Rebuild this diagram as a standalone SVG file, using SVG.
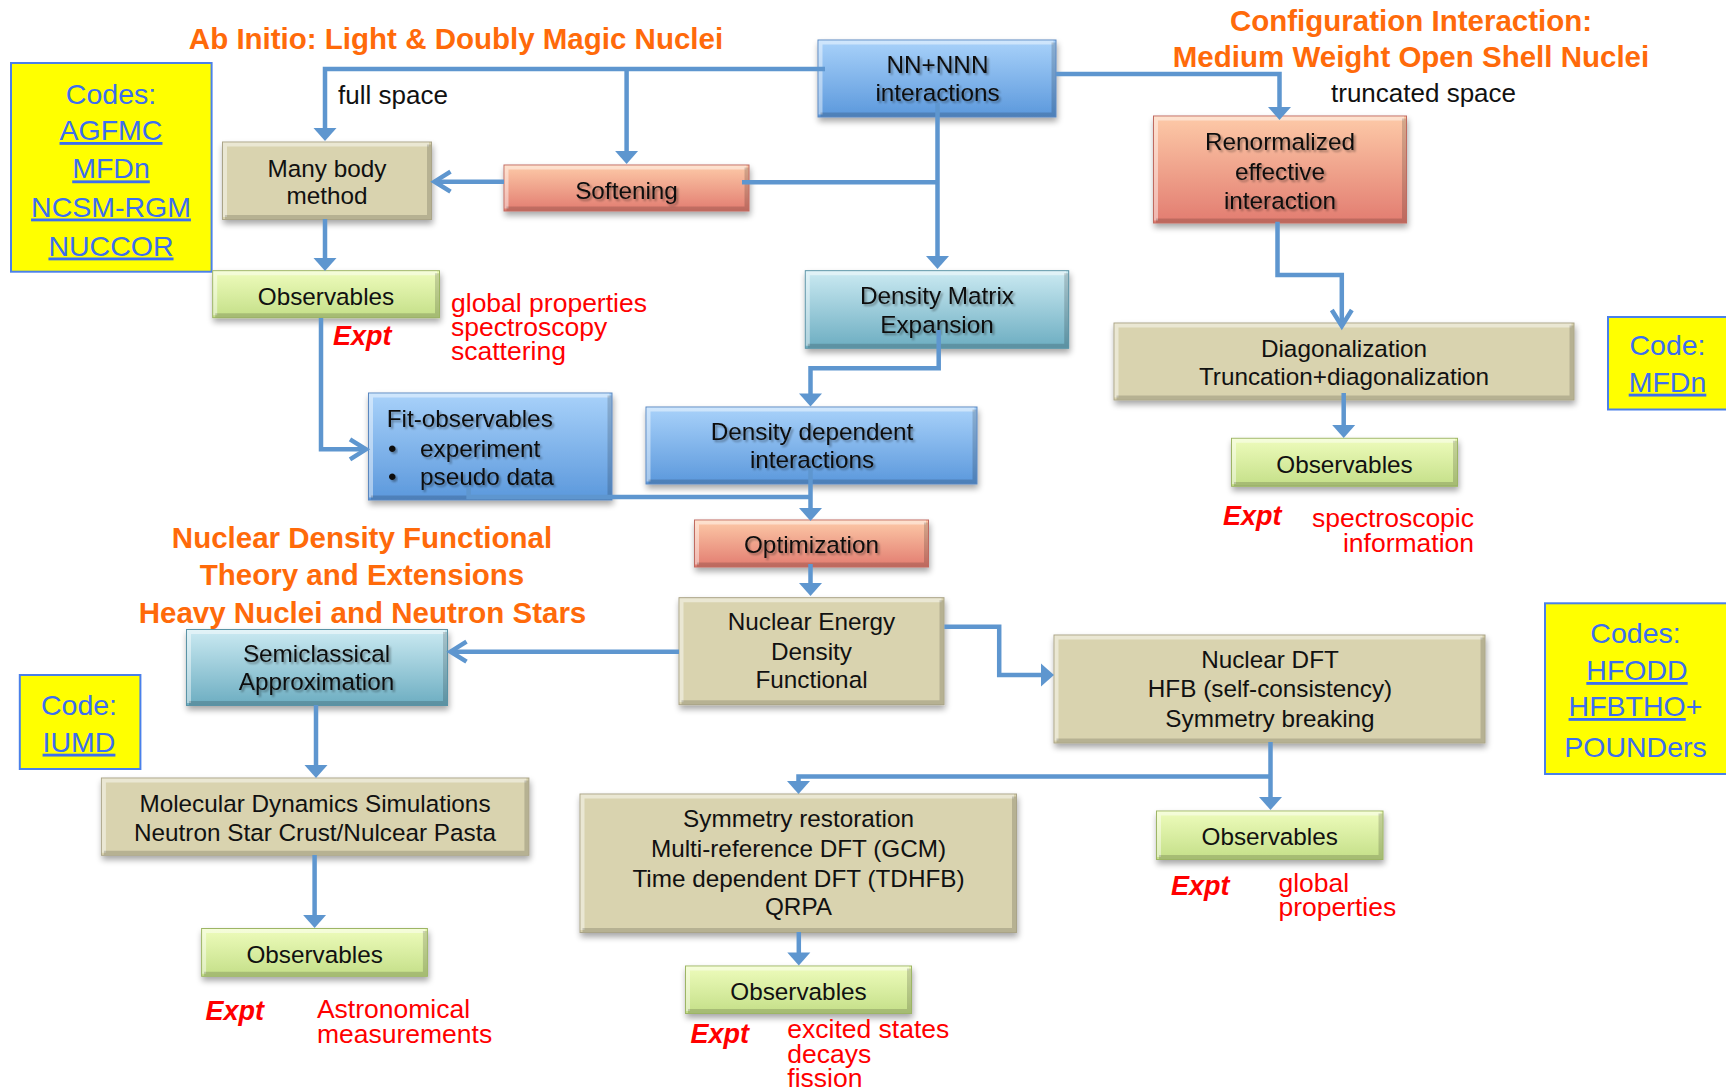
<svg xmlns="http://www.w3.org/2000/svg" width="1726" height="1091" viewBox="0 0 1726 1091">
<style>
  text { font-family: "Liberation Sans", Arial, sans-serif; }
  .bt { font-size: 24.3px; fill: #111; text-anchor: middle; }
  .btl { font-size: 24.3px; fill: #111; text-anchor: start; }
  .ttl { font-size: 29.5px; font-weight: bold; fill: #ff6a0a; text-anchor: middle; }
  .lbl { font-size: 26px; fill: #111; }
  .red { font-size: 26.5px; fill: #ff0000; }
  .rede { font-size: 26.5px; fill: #ff0000; text-anchor: end; }
  .expt { font-size: 27px; font-weight: bold; font-style: italic; fill: #ff0000; }
  .code { font-size: 28.5px; fill: #3c6ef0; text-anchor: middle; }
  .u { text-decoration: underline; }
  .codebox { fill: #ffff00; stroke: #4a80ea; stroke-width: 2; }
  .box { filter: url(#sh); stroke-width: 1; }
  .tan { fill: #d9d3af; stroke: #aaa487; }
  .blue { fill: url(#gBlue); stroke: #5a87c0; }
  .teal { fill: url(#gTeal); stroke: #5a93a6; }
  .salm { fill: url(#gSalm); stroke: #c06a60; }
  .green { fill: url(#gGreen); stroke: #9db565; }
  .hi { fill: none; stroke: #ffffff; stroke-opacity: 0.45; stroke-width: 4; }
  .lo { fill: none; stroke: #000000; stroke-opacity: 0.16; stroke-width: 4; }
  .ts { filter: url(#tsh); }
  .con { fill: none; stroke: #5e96cf; stroke-width: 4.5; }
</style>
<defs>
  <linearGradient id="gBlue" x1="0" y1="0" x2="0" y2="1">
    <stop offset="0" stop-color="#a9d2fa"/>
    <stop offset="1" stop-color="#5b98dc"/>
  </linearGradient>
  <linearGradient id="gTeal" x1="0" y1="0" x2="0" y2="1">
    <stop offset="0" stop-color="#cbeaf2"/>
    <stop offset="1" stop-color="#6cadc1"/>
  </linearGradient>
  <linearGradient id="gSalm" x1="0" y1="0" x2="0" y2="1">
    <stop offset="0" stop-color="#fdcaa8"/>
    <stop offset="1" stop-color="#e27c70"/>
  </linearGradient>
  <linearGradient id="gGreen" x1="0" y1="0" x2="0" y2="1">
    <stop offset="0" stop-color="#eefcbc"/>
    <stop offset="1" stop-color="#c4df88"/>
  </linearGradient>
  <filter id="sh" x="-10%" y="-20%" width="125%" height="160%">
    <feGaussianBlur in="SourceAlpha" stdDeviation="3"/>
    <feOffset dx="1" dy="4" result="b"/>
    <feComponentTransfer><feFuncA type="linear" slope="0.35"/></feComponentTransfer>
    <feMerge><feMergeNode/><feMergeNode in="SourceGraphic"/></feMerge>
  </filter>
  <filter id="tsh" x="-10%" y="-20%" width="120%" height="150%">
    <feGaussianBlur in="SourceAlpha" stdDeviation="1.2"/>
    <feOffset dx="1.5" dy="1.5"/>
    <feComponentTransfer><feFuncA type="linear" slope="0.35"/></feComponentTransfer>
    <feMerge><feMergeNode/><feMergeNode in="SourceGraphic"/></feMerge>
  </filter>
  <marker id="tri" markerUnits="userSpaceOnUse" markerWidth="14" markerHeight="24" viewBox="0 0 14 24" refX="3" refY="11.5" orient="auto" overflow="visible">
    <path d="M0,0 L13,11.5 L0,23 Z" fill="#5e96cf"/>
  </marker>
  <marker id="chev" markerUnits="userSpaceOnUse" markerWidth="20" markerHeight="24" viewBox="0 0 20 24" refX="16" refY="10" orient="auto" overflow="visible">
    <path d="M0,0 L16,10 L0,20" fill="none" stroke="#5e96cf" stroke-width="4.5"/>
  </marker>
</defs>

<rect x="0" y="0" width="1726" height="1091" fill="#ffffff"/>

<!-- Titles -->
<g id="titles">
  <text class="ttl" x="456" y="48.5">Ab Initio: Light &amp; Doubly Magic Nuclei</text>
  <text class="ttl" x="1411" y="30.5">Configuration Interaction:</text>
  <text class="ttl" x="1411" y="66.7">Medium Weight Open Shell Nuclei</text>
  <text class="ttl" x="362" y="548.3">Nuclear Density Functional</text>
  <text class="ttl" x="362" y="585">Theory and Extensions</text>
  <text class="ttl" x="362.5" y="623.3">Heavy Nuclei and Neutron Stars</text>
  <text class="lbl" x="338" y="104">full space</text>
  <text class="lbl" x="1331" y="101.7">truncated space</text>
</g>

<!-- Code boxes -->
<g id="codes-abinitio">
  <rect class="codebox" x="11" y="63" width="200.6" height="208.7"/>
  <text class="code" x="111" y="103.5">Codes:</text>
  <text class="code u" x="111" y="140">AGFMC</text>
  <text class="code u" x="111" y="178.4">MFDn</text>
  <text class="code u" x="111" y="216.5">NCSM-RGM</text>
  <text class="code u" x="111" y="255.5">NUCCOR</text>
</g>
<g id="codes-ci">
  <rect class="codebox" x="1608" y="317" width="140" height="92.5"/>
  <text class="code" x="1667.5" y="355">Code:</text>
  <text class="code u" x="1667.5" y="391.7">MFDn</text>
</g>
<g id="codes-dft">
  <rect class="codebox" x="1545" y="603.3" width="200" height="170.7"/>
  <text class="code" x="1635.5" y="643.3">Codes:</text>
  <text class="code u" x="1637" y="680">HFODD</text>
  <text class="code" x="1635.5" y="716"><tspan class="u">HFBTHO</tspan>+</text>
  <text class="code" x="1635.5" y="756.7">POUNDers</text>
</g>
<g id="codes-iumd">
  <rect class="codebox" x="19.8" y="675" width="120.6" height="94"/>
  <text class="code" x="79" y="715">Code:</text>
  <text class="code u" x="79" y="751.7">IUMD</text>
</g>

<!-- Nodes -->
<g id="n-nn">
  <rect class="box blue" x="818" y="40" width="238" height="77"/>
  <path class="hi" d="M820.5,114.5 V42.5 H1053.5"/>
  <path class="lo" d="M820.5,114.5 H1053.5 V42.5"/>
  <text class="bt ts" x="937.5" y="73.3">NN+NNN</text>
  <text class="bt ts" x="937.5" y="101">interactions</text>
</g>
<g id="n-manybody">
  <rect class="box tan" x="222.5" y="142" width="209" height="77.5"/>
  <path class="hi" d="M225,217 V144.5 H429"/>
  <path class="lo" d="M225,217 H429 V144.5"/>
  <text class="bt" x="327" y="176.7">Many body</text>
  <text class="bt" x="327" y="204">method</text>
</g>
<g id="n-softening">
  <rect class="box salm" x="504" y="165" width="245" height="46"/>
  <path class="hi" d="M506.5,208.5 V167.5 H746.5"/>
  <path class="lo" d="M506.5,208.5 H746.5 V167.5"/>
  <text class="bt ts" x="626.5" y="199">Softening</text>
</g>
<g id="n-renorm">
  <rect class="box salm" x="1153.5" y="116" width="253" height="107"/>
  <path class="hi" d="M1156,220.5 V118.5 H1404"/>
  <path class="lo" d="M1156,220.5 H1404 V118.5"/>
  <text class="bt ts" x="1280" y="150">Renormalized</text>
  <text class="bt ts" x="1280" y="180">effective</text>
  <text class="bt ts" x="1280" y="209">interaction</text>
</g>
<g id="n-obs1">
  <rect class="box green" x="212.7" y="270.7" width="226.8" height="47"/>
  <path class="hi" d="M215.2,315.2 V273.2 H437"/>
  <path class="lo" d="M215.2,315.2 H437 V273.2"/>
  <text class="bt" x="326" y="305">Observables</text>
</g>
<g id="n-dme">
  <rect class="box teal" x="805.3" y="270.7" width="263.4" height="77.6"/>
  <path class="hi" d="M807.8,345.8 V273.2 H1066.2"/>
  <path class="lo" d="M807.8,345.8 H1066.2 V273.2"/>
  <text class="bt ts" x="937" y="304.3">Density Matrix</text>
  <text class="bt ts" x="937" y="333.3">Expansion</text>
</g>
<g id="n-diag">
  <rect class="box tan" x="1114" y="323" width="460" height="77"/>
  <path class="hi" d="M1116.5,397.5 V325.5 H1571.5"/>
  <path class="lo" d="M1116.5,397.5 H1571.5 V325.5"/>
  <text class="bt" x="1344" y="356.7">Diagonalization</text>
  <text class="bt" x="1344" y="385">Truncation+diagonalization</text>
</g>
<g id="n-obs2">
  <rect class="box green" x="1231.5" y="438.3" width="226" height="48"/>
  <path class="hi" d="M1234,484 V440.8 H1455"/>
  <path class="lo" d="M1234,484 H1455 V440.8"/>
  <text class="bt" x="1344.5" y="473.3">Observables</text>
</g>
<g id="n-fit">
  <rect class="box blue" x="368.5" y="393" width="243.5" height="107"/>
  <path class="hi" d="M371,497.5 V395.5 H609.5"/>
  <path class="lo" d="M371,497.5 H609.5 V395.5"/>
  <text class="btl ts" x="386.7" y="426.7">Fit-observables</text>
  <text class="btl ts" x="388" y="456.7">•</text>
  <text class="btl ts" x="420" y="456.7">experiment</text>
  <text class="btl ts" x="388" y="485">•</text>
  <text class="btl ts" x="420" y="485">pseudo data</text>
</g>
<g id="n-ddi">
  <rect class="box blue" x="646" y="407" width="331" height="77"/>
  <path class="hi" d="M648.5,481.5 V409.5 H974.5"/>
  <path class="lo" d="M648.5,481.5 H974.5 V409.5"/>
  <text class="bt ts" x="812" y="440">Density dependent</text>
  <text class="bt ts" x="812" y="468.3">interactions</text>
</g>
<g id="n-opt">
  <rect class="box salm" x="694.5" y="520" width="234" height="47"/>
  <path class="hi" d="M697,564.5 V522.5 H926"/>
  <path class="lo" d="M697,564.5 H926 V522.5"/>
  <text class="bt ts" x="811.5" y="553.3">Optimization</text>
</g>
<g id="n-nedf">
  <rect class="box tan" x="679" y="597.7" width="265" height="107"/>
  <path class="hi" d="M681.5,702.2 V600.2 H941.5"/>
  <path class="lo" d="M681.5,702.2 H941.5 V600.2"/>
  <text class="bt" x="811.5" y="630">Nuclear Energy</text>
  <text class="bt" x="811.5" y="660">Density</text>
  <text class="bt" x="811.5" y="688.3">Functional</text>
</g>
<g id="n-semi">
  <rect class="box teal" x="186.5" y="629.5" width="261" height="76"/>
  <path class="hi" d="M189,703 V632 H445"/>
  <path class="lo" d="M189,703 H445 V632"/>
  <text class="bt ts" x="316.5" y="661.7">Semiclassical</text>
  <text class="bt ts" x="316.5" y="690">Approximation</text>
</g>
<g id="n-ndft">
  <rect class="box tan" x="1054" y="635" width="431" height="108"/>
  <path class="hi" d="M1056.5,740.5 V637.5 H1482.5"/>
  <path class="lo" d="M1056.5,740.5 H1482.5 V637.5"/>
  <text class="bt" x="1270" y="668.3">Nuclear DFT</text>
  <text class="bt" x="1270" y="696.7">HFB (self-consistency)</text>
  <text class="bt" x="1270" y="726.7">Symmetry breaking</text>
</g>
<g id="n-md">
  <rect class="box tan" x="101.4" y="778" width="427.5" height="77.3"/>
  <path class="hi" d="M103.9,852.8 V780.5 H526.4"/>
  <path class="lo" d="M103.9,852.8 H526.4 V780.5"/>
  <text class="bt" x="315" y="811.7">Molecular Dynamics Simulations</text>
  <text class="bt" x="315" y="840.7">Neutron Star Crust/Nulcear Pasta</text>
</g>
<g id="n-sym">
  <rect class="box tan" x="580" y="794" width="436.5" height="138.5"/>
  <path class="hi" d="M582.5,930 V796.5 H1014"/>
  <path class="lo" d="M582.5,930 H1014 V796.5"/>
  <text class="bt" x="798.5" y="827.3">Symmetry restoration</text>
  <text class="bt" x="798.5" y="856.7">Multi-reference DFT (GCM)</text>
  <text class="bt" x="798.5" y="886.7">Time dependent DFT (TDHFB)</text>
  <text class="bt" x="798.5" y="915">QRPA</text>
</g>
<g id="n-obs3">
  <rect class="box green" x="201.6" y="928.5" width="225.8" height="47.8"/>
  <path class="hi" d="M204.1,973.8 V931 H424.9"/>
  <path class="lo" d="M204.1,973.8 H424.9 V931"/>
  <text class="bt" x="314.6" y="963.3">Observables</text>
</g>
<g id="n-obs4">
  <rect class="box green" x="685.5" y="966" width="226" height="47.5"/>
  <path class="hi" d="M688,1011 V968.5 H909"/>
  <path class="lo" d="M688,1011 H909 V968.5"/>
  <text class="bt" x="798.5" y="1000">Observables</text>
</g>
<g id="n-obs5">
  <rect class="box green" x="1156.5" y="811" width="226.5" height="48.5"/>
  <path class="hi" d="M1159,857 V813.5 H1380.5"/>
  <path class="lo" d="M1159,857 H1380.5 V813.5"/>
  <text class="bt" x="1269.7" y="845">Observables</text>
</g>

<!-- Experiment annotations -->
<g id="annotations">
  <text class="expt" x="333" y="345">Expt</text>
  <text class="red" x="451" y="311.5">global properties</text>
  <text class="red" x="451" y="335.5">spectroscopy</text>
  <text class="red" x="451" y="359.5">scattering</text>

  <text class="expt" x="1223" y="525">Expt</text>
  <text class="rede" x="1474" y="527.3">spectroscopic</text>
  <text class="rede" x="1474" y="551.7">information</text>

  <text class="expt" x="1171" y="895">Expt</text>
  <text class="red" x="1278.4" y="891.7">global</text>
  <text class="red" x="1278.4" y="916">properties</text>

  <text class="expt" x="690.6" y="1042.7">Expt</text>
  <text class="red" x="787.3" y="1038.3">excited states</text>
  <text class="red" x="787.3" y="1063.3">decays</text>
  <text class="red" x="787.3" y="1086.7">fission</text>

  <text class="expt" x="205.5" y="1020">Expt</text>
  <text class="red" x="316.9" y="1018.3">Astronomical</text>
  <text class="red" x="316.9" y="1042.7">measurements</text>
</g>

<!-- Connectors -->
<g id="connectors">
  <path class="con" d="M825,69 H325 V131" marker-end="url(#tri)"/>
  <path class="con" d="M626.6,69 V154" marker-end="url(#tri)"/>
  <path class="con" d="M1056,74 H1279.5 V110" marker-end="url(#tri)"/>
  <path class="con" d="M937.5,103 V259" marker-end="url(#tri)"/>
  <path class="con" d="M742,182.3 H937.5"/>
  <path class="con" d="M504,181.7 H434.5" marker-end="url(#chev)"/>
  <path class="con" d="M325,219 V261" marker-end="url(#tri)"/>
  <path class="con" d="M321,318 V449.3 H366" marker-end="url(#chev)"/>
  <path class="con" d="M938.7,330 V368.3 H810.5 V396.5" marker-end="url(#tri)"/>
  <path class="con" d="M810.5,468 V511" marker-end="url(#tri)"/>
  <path class="con" d="M468.6,488 V497 H810.5"/>
  <path class="con" d="M810.5,564 V586" marker-end="url(#tri)"/>
  <path class="con" d="M679,651.7 H450.5" marker-end="url(#chev)"/>
  <path class="con" d="M944.4,626.7 H999.2 V675 H1044" marker-end="url(#tri)"/>
  <path class="con" d="M1277.5,221.7 V275 H1341.8 V326" marker-end="url(#chev)"/>
  <path class="con" d="M1343.7,393 V428" marker-end="url(#tri)"/>
  <path class="con" d="M1270.5,742 V800" marker-end="url(#tri)"/>
  <path class="con" d="M1270.5,776.5 H798.5 V784" marker-end="url(#tri)"/>
  <path class="con" d="M316,705 V768" marker-end="url(#tri)"/>
  <path class="con" d="M314.6,855 V918" marker-end="url(#tri)"/>
  <path class="con" d="M798.8,932 V955.5" marker-end="url(#tri)"/>
</g>
</svg>
